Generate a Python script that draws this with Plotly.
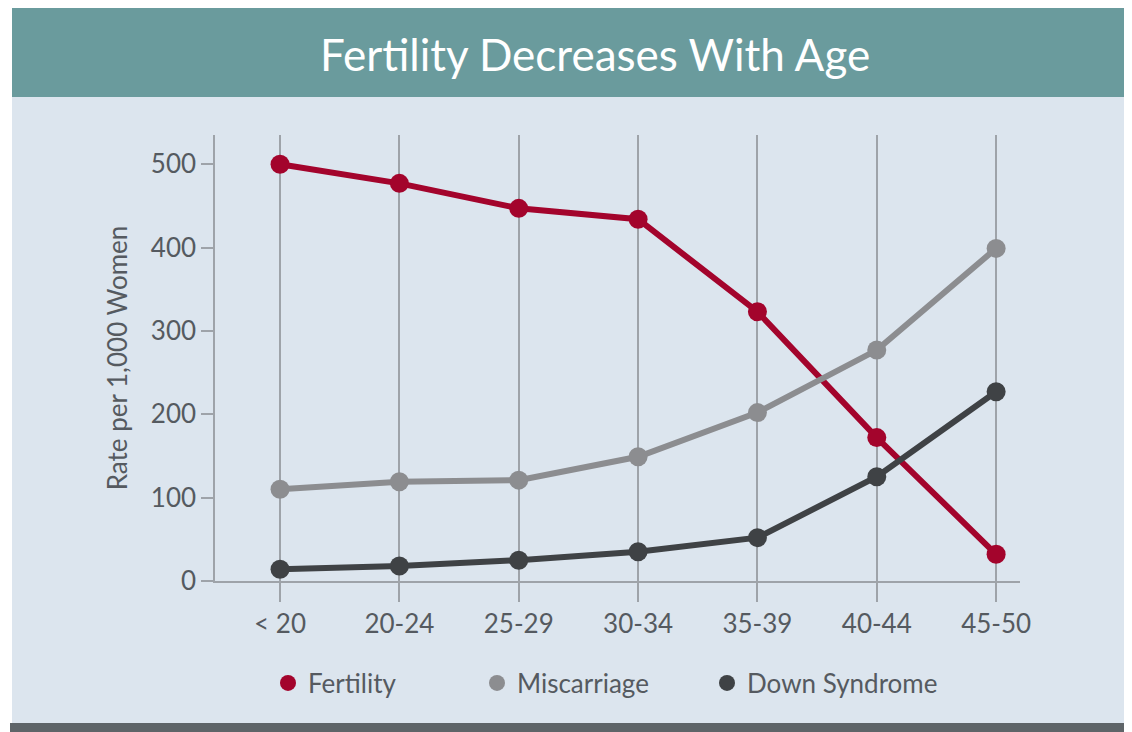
import plotly.graph_objects as go

age_groups = ["< 20", "20-24", "25-29", "30-34", "35-39", "40-44", "45-50"]
fertility = [500, 477, 447, 434, 323, 172, 32]
miscarriage = [110, 119, 121, 149, 202, 277, 399]
down_syndrome = [14, 18, 25, 35, 52, 125, 227]
y_ticks = [0, 100, 200, 300, 400, 500]

series = [
    ("Fertility", fertility, "#a3042c"),
    ("Miscarriage", miscarriage, "#8c8d90"),
    ("Down Syndrome", down_syndrome, "#3f4245"),
]

FONT = "Lato, 'Open Sans', sans-serif"
TEXT = "#555a60"
GRID = "#9ea3a9"

OFF = 8  # page body margin
W, H = 1124, 724
L, T = 215 - OFF, 135 - OFF
R = W - (1020 - OFF)
B = H - (581 - OFF)
pw, ph = W - L - R, H - T - B


def px(x):
    return (x - OFF - L) / pw


def py(y):
    return (H - B - (y - OFF)) / ph


fig = go.Figure()
for name, vals, color in series:
    fig.add_trace(go.Scatter(
        x=age_groups, y=vals, mode="lines+markers", name=name,
        line=dict(color=color, width=6),
        marker=dict(color=color, size=19),
        showlegend=False, cliponaxis=False,
    ))

legend_ids = ["legend", "legend2", "legend3"]
legend_left = [268, 477, 707]
for (name, vals, color), lid in zip(series, legend_ids):
    fig.add_trace(go.Scatter(
        x=[None], y=[None], mode="markers", name=name,
        marker=dict(color=color, size=19), showlegend=True, legend=lid,
    ))

shapes = [
    dict(type="rect", xref="paper", yref="paper", x0=px(12), x1=px(W + 40),
         y0=py(723), y1=py(96), fillcolor="#dce5ee", line_width=0, layer="below"),
    dict(type="rect", xref="paper", yref="paper", x0=px(12), x1=px(W + 40),
         y0=py(97), y1=py(0), fillcolor="#6a9b9d", line_width=0, layer="below"),
    dict(type="rect", xref="paper", yref="paper", x0=px(10), x1=px(W + 40),
         y0=py(H + 40), y1=py(723), fillcolor="#5e6468", line_width=0, layer="below"),
]

legends = {}
for lid, left in zip(legend_ids, legend_left):
    legends[lid] = dict(
        orientation="h", xref="paper", yref="paper",
        x=px(left), y=py(683), xanchor="left", yanchor="middle",
        bgcolor="rgba(0,0,0,0)", font=dict(size=26, color=TEXT),
        itemsizing="trace",
    )

fig.update_layout(
    width=W, height=H,
    margin=dict(l=L, r=R, t=T, b=B, autoexpand=False),
    paper_bgcolor="white",
    plot_bgcolor="rgba(0,0,0,0)",
    font=dict(family=FONT, color=TEXT, size=26),
    shapes=shapes,
    annotations=[dict(
        text="Fertility Decreases With Age", xref="paper", yref="paper",
        x=px(595), y=py(54), xanchor="center", yanchor="middle",
        showarrow=False, font=dict(family=FONT, size=44, color="white"),
    )],
    showlegend=True,
    **legends,
    xaxis=dict(
        type="category", categoryorder="array", categoryarray=age_groups,
        range=[-0.545, 6.2],
        showgrid=True, gridcolor=GRID, gridwidth=1.5,
        showline=True, linecolor=GRID, linewidth=1.5,
        ticks="outside", ticklen=19, tickcolor=GRID, tickwidth=1.5,
        tickfont=dict(size=26, color=TEXT), zeroline=False,
    ),
    yaxis=dict(
        range=[0, 535], tickvals=y_ticks,
        showgrid=False, zeroline=False,
        showline=True, linecolor=GRID, linewidth=1.5,
        ticks="outside", ticklen=12, tickcolor=GRID, tickwidth=1.5,
        tickfont=dict(size=26, color=TEXT),
        title=dict(text="Rate per 1,000 Women", font=dict(size=26, color=TEXT), standoff=16),
    ),
)

fig.write_html("out.html")
